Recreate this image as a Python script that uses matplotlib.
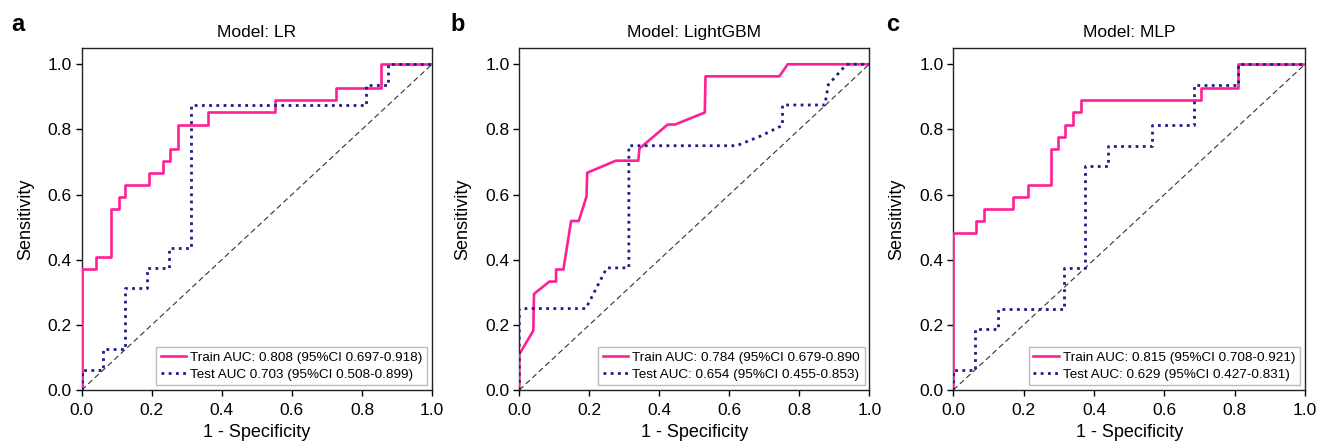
import matplotlib
matplotlib.use("Agg")
import matplotlib.pyplot as plt
import numpy as np

plt.rcParams["font.family"] = ["Liberation Sans", "DejaVu Sans"]

PINK = "#ff1f96"
NAVY = "#1c1c8c"

# ROC points (1 - specificity, sensitivity) per model
lr_train_fpr = [0.0, 0.0, 0.042, 0.042, 0.083, 0.083, 0.107, 0.107, 0.125, 0.125, 0.192, 0.192,
                0.232, 0.232, 0.253, 0.253, 0.275, 0.275, 0.361, 0.361, 0.552, 0.552, 0.725, 0.725,
                0.853, 0.853, 1.0]
lr_train_tpr = [0.0, 0.370, 0.370, 0.407, 0.407, 0.556, 0.556, 0.593, 0.593, 0.630, 0.630, 0.667,
                0.667, 0.704, 0.704, 0.741, 0.741, 0.815, 0.815, 0.852, 0.852, 0.889, 0.889, 0.926,
                0.926, 1.0, 1.0]
lr_test_fpr = [0.0, 0.0, 0.062, 0.062, 0.123, 0.123, 0.187, 0.187, 0.250, 0.250, 0.313, 0.313,
               0.813, 0.813, 0.875, 0.875, 1.0]
lr_test_tpr = [0.0, 0.0625, 0.0625, 0.125, 0.125, 0.3125, 0.3125, 0.375, 0.375, 0.4375, 0.4375,
               0.875, 0.875, 0.9375, 0.9375, 1.0, 1.0]

gbm_train_fpr = [0.0, 0.0, 0.040, 0.042, 0.086, 0.105, 0.105, 0.126, 0.148, 0.170, 0.192, 0.194,
                 0.276, 0.340, 0.343, 0.424, 0.445, 0.530, 0.532, 0.743, 0.767, 1.0]
gbm_train_tpr = [0.0, 0.110, 0.182, 0.295, 0.333, 0.333, 0.370, 0.370, 0.519, 0.519, 0.594, 0.667,
                 0.704, 0.704, 0.741, 0.815, 0.815, 0.852, 0.963, 0.963, 1.0, 1.0]
gbm_test_fpr = [0.0, 0.0, 0.190, 0.250, 0.313, 0.313, 0.621, 0.690, 0.752, 0.752, 0.873, 0.883,
                0.935, 1.0]
gbm_test_tpr = [0.0, 0.25, 0.25, 0.375, 0.375, 0.75, 0.75, 0.78, 0.8125, 0.875, 0.875, 0.9375,
                1.0, 1.0]

mlp_train_fpr = [0.0, 0.0, 0.065, 0.065, 0.087, 0.087, 0.171, 0.171, 0.211, 0.211, 0.278, 0.278,
                 0.299, 0.299, 0.319, 0.319, 0.341, 0.341, 0.362, 0.362, 0.704, 0.704, 0.810,
                 0.810, 1.0]
mlp_train_tpr = [0.0, 0.481, 0.481, 0.519, 0.519, 0.556, 0.556, 0.593, 0.593, 0.630, 0.630, 0.741,
                 0.741, 0.778, 0.778, 0.815, 0.815, 0.852, 0.852, 0.889, 0.889, 0.926, 0.926,
                 1.0, 1.0]
mlp_test_fpr = [0.0, 0.0, 0.062, 0.062, 0.128, 0.128, 0.315, 0.315, 0.374, 0.374, 0.441, 0.441,
                0.564, 0.564, 0.685, 0.685, 0.810, 0.810, 1.0]
mlp_test_tpr = [0.0, 0.0625, 0.0625, 0.1875, 0.1875, 0.25, 0.25, 0.375, 0.375, 0.6875, 0.6875,
                0.75, 0.75, 0.8125, 0.8125, 0.9375, 0.9375, 1.0, 1.0]

panels = [
    ("a", "Model: LR", lr_train_fpr, lr_train_tpr, lr_test_fpr, lr_test_tpr,
     "Train AUC: 0.808 (95%CI 0.697-0.918)", "Test AUC 0.703 (95%CI 0.508-0.899)"),
    ("b", "Model: LightGBM", gbm_train_fpr, gbm_train_tpr, gbm_test_fpr, gbm_test_tpr,
     "Train AUC: 0.784 (95%CI 0.679-0.890", "Test AUC: 0.654 (95%CI 0.455-0.853)"),
    ("c", "Model: MLP", mlp_train_fpr, mlp_train_tpr, mlp_test_fpr, mlp_test_tpr,
     "Train AUC: 0.815 (95%CI 0.708-0.921)", "Test AUC: 0.629 (95%CI 0.427-0.831)"),
]

W, H = 1330, 448
fig = plt.figure(figsize=(W / 100, H / 100), dpi=100)

axes_left = [81.7, 519.3, 953.3]
axes_width = [350.3, 350.0, 351.7]
letter_x = [11, 450, 886]

for i, (letter, title, trf, trt, tef, tet, tr_lab, te_lab) in enumerate(panels):
    ax = fig.add_axes([axes_left[i] / W, 1 - 390 / H, axes_width[i] / W, 342 / H])
    ax.plot([0, 1], [0, 1], color="#333333", lw=0.8, ls=(0, (5, 3)), zorder=1)
    ax.plot(trf, trt, color=PINK, lw=1.9, label=tr_lab, zorder=3)
    ax.plot(tef, tet, color=NAVY, lw=2.0, ls=(0, (1, 1.6)), label=te_lab, zorder=4)

    ax.set_xlim(0, 1.0)
    ax.set_ylim(0, 1.05)
    ax.set_xticks(np.arange(0, 1.01, 0.2))
    ax.set_yticks(np.arange(0, 1.01, 0.2))
    ax.tick_params(direction="out", length=4.5, width=1, labelsize=12.5)
    ax.tick_params(axis="x", pad=5)
    ax.tick_params(axis="y", pad=2.5)
    for sp in ax.spines.values():
        sp.set_linewidth(1.0)
        sp.set_color("#222222")

    ax.set_title(title, fontsize=12.5, pad=8)
    ax.set_xlabel("1 - Specificity", fontsize=13, labelpad=4)
    ax.set_ylabel("Sensitivity", fontsize=13, labelpad=10)

    leg = ax.legend(loc="lower right", fontsize=9.7, frameon=True, fancybox=False,
                    handlelength=1.9, handletextpad=0.3, borderpad=0.35,
                    labelspacing=0.3, borderaxespad=0.35)
    leg.get_frame().set_edgecolor("#aaaaaa")
    leg.get_frame().set_linewidth(1.0)

    fig.text(letter_x[i] / W, 1 - 31 / H, letter, fontsize=17, fontweight="bold",
             ha="left", va="baseline")

fig.savefig("out.png", dpi=100)
